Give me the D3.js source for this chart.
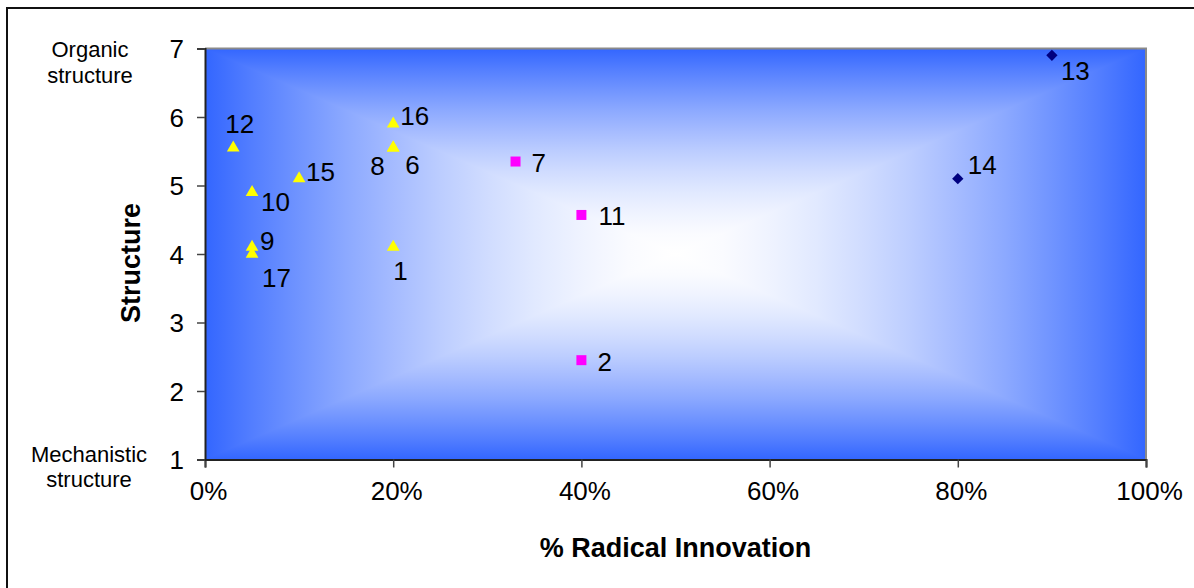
<!DOCTYPE html>
<html>
<head>
<meta charset="utf-8">
<script src="https://cdn.jsdelivr.net/npm/d3@7"></script>
<style>
  body { margin: 0; background: #fff; }
  svg { display: block; font-family: "Liberation Sans", Arial, sans-serif; }
</style>
</head>
<body>
<div id="chart"></div>
<script>
// data: x = share of radical innovation, y = structure score
const triangleLabels = ['12', '10', '9', '17', '15', '16', '8', '6', '1'];
const triangleX = [0.03, 0.05, 0.05, 0.05, 0.10, 0.20, 0.20, 0.20, 0.20];
const triangleY = [5.55, 4.9, 4.1, 4.0, 5.1, 5.9, 5.55, 5.55, 4.1];

const squareLabels = ['7', '11', '2'];
const squareX = [0.33, 0.40, 0.40];
const squareY = [5.35, 4.57, 2.45];

const diamondLabels = ['13', '14'];
const diamondX = [0.90, 0.80];
const diamondY = [6.9, 5.1];

const xTicks = [0, 0.2, 0.4, 0.6, 0.8, 1];
const yTicks = [1, 2, 3, 4, 5, 6, 7];

// hand-placed label nudges (px), like the moved labels in the original
const labelNudge = {
  '12': [-8, -15], '10': [9, 19], '9': [8, 3], '17': [10, 33], '15': [7, 2],
  '16': [7, 1], '8': [-23, 27], '6': [12, 26], '1': [0, 33],
  '7': [16, 10], '11': [17, 10], '2': [16, 11],
  '13': [9, 25], '14': [10, -5]
};

const width = 1194, height = 588;
const plot = { left: 205, right: 1146, top: 48.5, bottom: 459.5 };

const svg = d3.select('#chart').append('svg')
  .attr('width', width)
  .attr('height', height);

const x = d3.scaleLinear().domain([0, 1]).range([plot.left, plot.right]);
const y = d3.scaleLinear().domain([1, 7]).range([plot.bottom, plot.top]);

// outer chart frame
svg.append('rect')
  .attr('x', 7).attr('y', 8)
  .attr('width', 1300).attr('height', 700)
  .attr('fill', '#fff')
  .attr('stroke', '#111')
  .attr('stroke-width', 2);

// "from centre" rectangular gradient: horizontal base + top/bottom triangles
const blue = '#3366ff';
const cx = (plot.left + plot.right) / 2;
const cy = (plot.top + plot.bottom) / 2;
const defs = svg.append('defs');
const mix = d3.interpolateRgb(blue, '#ffffff');

function addGradient(id, x1, y1, x2, y2) {
  const g = defs.append('linearGradient')
    .attr('id', id)
    .attr('gradientUnits', 'userSpaceOnUse')
    .attr('x1', x1).attr('y1', y1).attr('x2', x2).attr('y2', y2);
  // offset 0 = edge, 1 = centre; whiteness eases in towards the middle
  d3.range(0, 1.0001, 0.1).forEach(o => {
    const t = 1 - o;
    g.append('stop').attr('offset', o).attr('stop-color', mix(1 - Math.pow(t, 1.6)));
  });
}
addGradient('gh', plot.left, 0, cx, 0);
addGradient('gh2', plot.right, 0, cx, 0);
addGradient('gv', 0, plot.top, 0, cy);
addGradient('gv2', 0, plot.bottom, 0, cy);

svg.append('rect')
  .attr('x', plot.left).attr('y', plot.top)
  .attr('width', cx - plot.left + 1)
  .attr('height', plot.bottom - plot.top)
  .attr('fill', 'url(#gh)');
svg.append('rect')
  .attr('x', cx).attr('y', plot.top)
  .attr('width', plot.right - cx)
  .attr('height', plot.bottom - plot.top)
  .attr('fill', 'url(#gh2)');

svg.append('path')
  .attr('d', `M${plot.left},${plot.top}L${plot.right},${plot.top}L${cx},${cy}Z`)
  .attr('fill', 'url(#gv)');
svg.append('path')
  .attr('d', `M${plot.left},${plot.bottom}L${plot.right},${plot.bottom}L${cx},${cy}Z`)
  .attr('fill', 'url(#gv2)');

// plot border: grey top/right
svg.append('path')
  .attr('d', `M${plot.left},${plot.top}H${plot.right}V${plot.bottom}`)
  .attr('fill', 'none')
  .attr('stroke', '#8a8a8a')
  .attr('stroke-width', 2);

// axes
const xAxis = svg.append('g')
  .attr('transform', `translate(0,${plot.bottom})`)
  .call(d3.axisBottom(x).tickValues(xTicks).tickSize(8).tickFormat(d3.format('.0%')));
const yAxis = svg.append('g')
  .attr('transform', `translate(${plot.left},0)`)
  .call(d3.axisLeft(y).tickValues(yTicks).tickSize(8).tickFormat(d3.format('d')));

[xAxis, yAxis].forEach(a => {
  a.select('.domain').attr('stroke', '#222').attr('stroke-width', 2);
  a.selectAll('.tick line').attr('stroke', '#444').attr('stroke-width', 1.5);
  a.selectAll('.tick text')
    .attr('fill', '#000')
    .style('font-size', '26px')
    .style('font-family', '"Liberation Sans", Arial, sans-serif');
});
xAxis.selectAll('.tick text').attr('y', 22).attr('dy', '0.71em').attr('dx', 3);
yAxis.selectAll('.tick text').attr('x', -21).attr('dy', '0.36em');

// axis titles
svg.append('text')
  .attr('x', cx).attr('y', 557)
  .attr('text-anchor', 'middle')
  .style('font-size', '27px').style('font-weight', 'bold')
  .text('% Radical Innovation');

svg.append('text')
  .attr('transform', 'translate(140,263) rotate(-90)')
  .attr('text-anchor', 'middle')
  .style('font-size', '27px').style('font-weight', 'bold')
  .text('Structure');

// end labels on the structure scale
const endLabels = svg.append('g')
  .attr('text-anchor', 'middle')
  .style('font-size', '22px');
endLabels.append('text').attr('x', 90).attr('y', 57).text('Organic');
endLabels.append('text').attr('x', 90).attr('y', 83).text('structure');
endLabels.append('text').attr('x', 89).attr('y', 462).text('Mechanistic');
endLabels.append('text').attr('x', 89).attr('y', 487).text('structure');

// series
const series = [
  { labels: triangleLabels, xs: triangleX, ys: triangleY, fill: '#ffff00',
    symbol: d3.symbol().type(d3.symbolTriangle).size(70), rotate: 0 },
  { labels: squareLabels, xs: squareX, ys: squareY, fill: '#ff00ff',
    symbol: d3.symbol().type(d3.symbolSquare).size(100), rotate: 0 },
  { labels: diamondLabels, xs: diamondX, ys: diamondY, fill: '#000080',
    symbol: d3.symbol().type(d3.symbolSquare).size(64), rotate: 45 }
];

series.forEach(s => {
  const pts = s.labels.map((l, i) => ({ label: l, x: s.xs[i], y: s.ys[i] }));
  const g = svg.append('g');
  g.selectAll('path')
    .data(pts)
    .join('path')
    .attr('d', s.symbol)
    .attr('fill', s.fill)
    .attr('transform', d => `translate(${x(d.x)},${y(d.y)}) rotate(${s.rotate})`);
  g.selectAll('text')
    .data(pts)
    .join('text')
    .attr('x', d => x(d.x) + labelNudge[d.label][0])
    .attr('y', d => y(d.y) + labelNudge[d.label][1])
    .attr('fill', '#000')
    .style('font-size', '26px')
    .text(d => d.label);
});
</script>
</body>
</html>
